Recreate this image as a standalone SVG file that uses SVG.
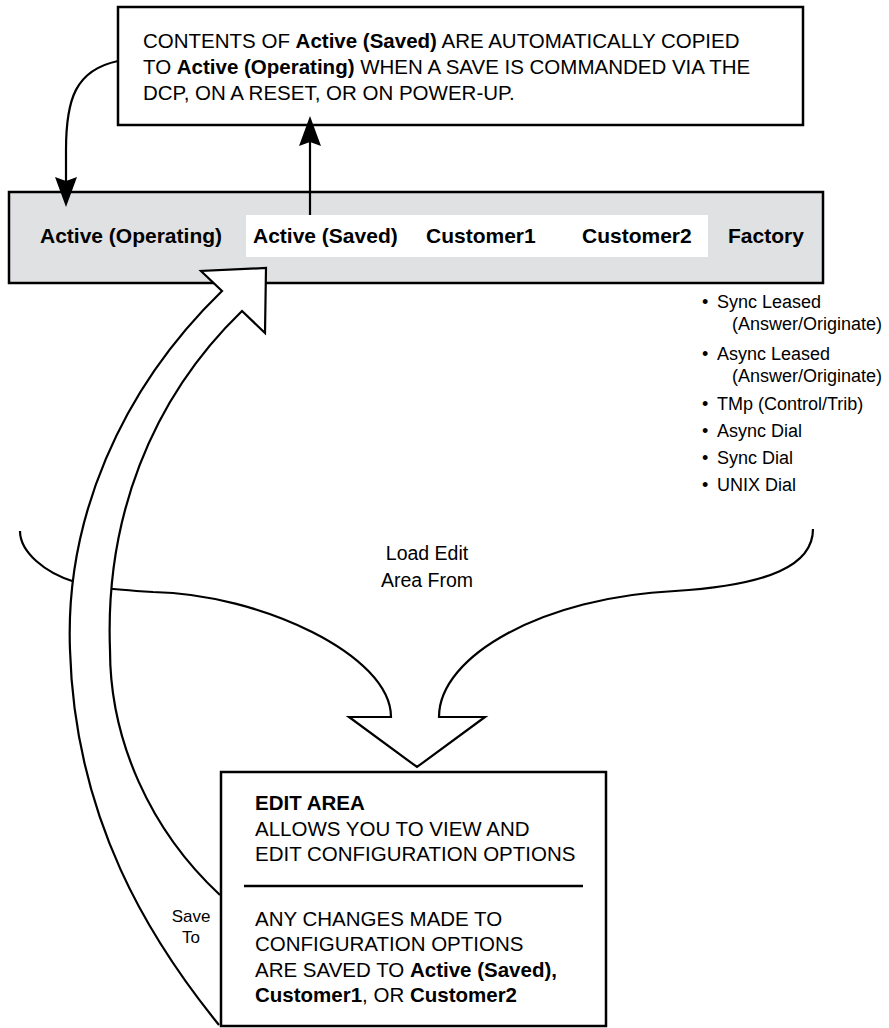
<svg xmlns="http://www.w3.org/2000/svg" width="889" height="1028" viewBox="0 0 889 1028">
<style>
text{font-family:"Liberation Sans",Arial,Helvetica,sans-serif;fill:#000}
.t{font-size:20.5px}
.b{font-weight:bold}
.lbl{font-size:21px;font-weight:bold}
.li{font-size:18px}
.box{fill:#fff;stroke:#000;stroke-width:2.5}
.ln{fill:none;stroke:#000;stroke-width:2.2}
.hol{fill:#fff;stroke:#000;stroke-width:2.2;stroke-linejoin:miter}
</style>
<defs>
<marker id="ah" markerUnits="userSpaceOnUse" viewBox="0 0 30 22" refX="24" refY="11" markerWidth="30" markerHeight="22" orient="auto">
<path d="M0,0 L30,11 L0,22 L4,11 Z" fill="#000"/>
</marker>
</defs>
<g id="note-box">
<rect class="box" x="118" y="7" width="685" height="118"/>
<text class="t" x="143" y="48">CONTENTS OF <tspan class="b">Active (Saved)</tspan> ARE AUTOMATICALLY COPIED</text>
<text class="t" x="143" y="74">TO <tspan class="b">Active (Operating)</tspan> WHEN A SAVE IS COMMANDED VIA THE</text>
<text class="t" x="143" y="100">DCP, ON A RESET, OR ON POWER-UP.</text>
</g>
<g id="profile-bar">
<rect x="9" y="192" width="814" height="91" fill="#e0e1e3" stroke="#000" stroke-width="2.5"/>
<rect x="246" y="215" width="462" height="42" fill="#fff"/>
<text class="lbl" x="40" y="243">Active (Operating)</text>
<text class="lbl" x="253" y="243">Active (Saved)</text>
<text class="lbl" x="426" y="243">Customer1</text>
<text class="lbl" x="582" y="243">Customer2</text>
<text class="lbl" x="728" y="243">Factory</text>
</g>
<g id="factory-options">
<text class="li" x="702" y="308">•</text><text class="li" x="717" y="308">Sync Leased</text>
<text class="li" x="732" y="330">(Answer/Originate)</text>
<text class="li" x="702" y="360">•</text><text class="li" x="717" y="360">Async Leased</text>
<text class="li" x="732" y="382">(Answer/Originate)</text>
<text class="li" x="702" y="410">•</text><text class="li" x="717" y="410">TMp (Control/Trib)</text>
<text class="li" x="702" y="437">•</text><text class="li" x="717" y="437">Async Dial</text>
<text class="li" x="702" y="464">•</text><text class="li" x="717" y="464">Sync Dial</text>
<text class="li" x="702" y="491">•</text><text class="li" x="717" y="491">UNIX Dial</text>
</g>
<g id="connectors">
<path id="load-edit-from" class="hol" d="M20,531 C20,552 45,573 75,582 C90,587 105,589 153,592 C260,594 391,655 391,717 L349,717 L417,767 L485,717 L439,717 C439,655 545,597 675,591 C770,585 813,565 813,529"/>
<path id="save-to" class="hol" d="M219,1025 C150,940 75,820 70,650 C65,520 120,390 222,291 L201,271 L266,268 L265,333 L242,311 C150,400 105,520 110,650 C110,740 150,830 220,895"/>
<path id="copy-to-operating" class="ln" d="M118,61 C75,70 66,100 66,150 L66,201" marker-end="url(#ah)"/>
<path id="saved-to-note" class="ln" d="M310,215 L310,122" marker-end="url(#ah)"/>
<text x="427" y="560" font-size="19.5" text-anchor="middle">Load Edit</text>
<text x="427" y="587" font-size="19.5" text-anchor="middle">Area From</text>
<text x="191" y="922" font-size="17" text-anchor="middle">Save</text>
<text x="191" y="943" font-size="17" text-anchor="middle">To</text>
</g>
<g id="edit-area">
<rect class="box" x="221" y="772" width="385" height="254"/>
<text class="t b" x="255" y="810">EDIT AREA</text>
<text class="t" x="255" y="836">ALLOWS YOU TO VIEW AND</text>
<text class="t" x="255" y="861">EDIT CONFIGURATION OPTIONS</text>
<line x1="244" y1="886" x2="583" y2="886" stroke="#000" stroke-width="2.5"/>
<text class="t" x="255" y="926">ANY CHANGES MADE TO</text>
<text class="t" x="255" y="951">CONFIGURATION OPTIONS</text>
<text class="t" x="255" y="977">ARE SAVED TO <tspan class="b">Active (Saved),</tspan></text>
<text class="t" x="255" y="1002"><tspan class="b">Customer1</tspan>, OR <tspan class="b">Customer2</tspan></text>
</g>
</svg>
